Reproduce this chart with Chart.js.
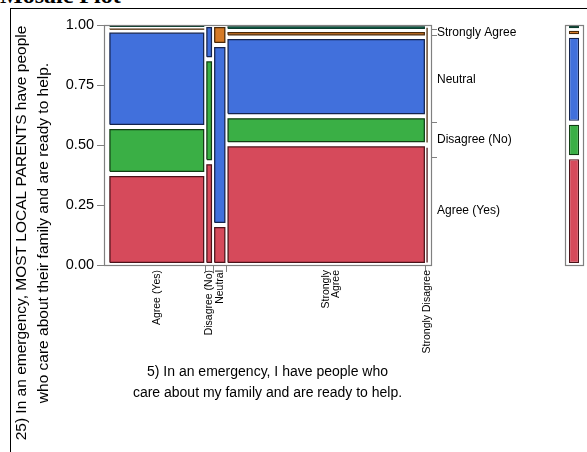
<!DOCTYPE html>
<html><head><meta charset="utf-8">
<script src="https://cdn.jsdelivr.net/npm/chart.js@4.4.1/dist/chart.umd.min.js"></script>
<style>
html,body{margin:0;padding:0;background:#fff;}
body{width:587px;height:452px;position:relative;overflow:hidden;}
#hdr{position:absolute;left:0;top:-18px;font:bold 24px "Liberation Serif","Times New Roman",serif;color:#000;white-space:nowrap;}
#frame{position:absolute;left:10px;top:8px;width:640px;height:520px;border-top:1px solid #000;border-left:1px solid #000;}
#main{position:absolute;left:0;top:0;}
#marg{position:absolute;left:540px;top:0;}
</style></head><body>
<div id="hdr">Mosaic Plot</div>
<div id="frame"></div>
<canvas id="main" width="587" height="452"></canvas>
<canvas id="marg" width="47" height="452"></canvas>
<script>
// ---- data (counts read from the mosaic) ----
const q5Categories = ['Agree (Yes)', 'Disagree (No)', 'Neutral', 'Strongly Agree', 'Strongly Disagree'];
const q5TickLabels = ['Agree (Yes)', 'Disagree (No)', 'Neutral', ['Strongly', 'Agree'], 'Strongly Disagree'];
const q25Categories = ['Agree (Yes)', 'Disagree (No)', 'Neutral', 'Strongly Agree', 'Strongly Disagree'];
const q25RightLabels = ['Agree (Yes)', 'Disagree (No)', 'Neutral', 'Strongly Agree', ''];
// counts of each Q25 answer, per Q5 column (same order as q5Categories)
const q25AgreeYes          = [33, 3, 2, 90, 1];
const q25DisagreeNo        = [17, 3, 0, 21, 0];
const q25Neutral           = [35, 1, 9, 59, 0];
const q25StronglyAgree     = [1, 0, 1, 5, 1];
const q25StronglyDisagree  = [1, 0, 0, 4, 0];
const yTickValues = [0, 0.25, 0.5, 0.75, 1];
const xTitle = ['5) In an emergency, I have people who', 'care about my family and are ready to help.'];
const yTitle = ['25) In an emergency, MOST LOCAL PARENTS have people', 'who care about their family and are ready to help.'];

// ---- styles ----
const fills   = ['#D64A5B', '#3AAF45', '#4170DC', '#D57A27', '#22AD86'];
const borders = ['#4B1219', '#123D14', '#14234D', '#4A2808', '#0B3D2E'];
const AXIS = '#808080';
const FONT = "'Liberation Sans', Arial, sans-serif";
Chart.defaults.font.family = FONT;
Chart.defaults.color = '#000';

const rows = [q25AgreeYes, q25DisagreeNo, q25Neutral, q25StronglyAgree, q25StronglyDisagree];
const colTotals = q5Categories.map((_, j) => rows.reduce((s, r) => s + r[j], 0));
const N = colTotals.reduce((a, b) => a + b, 0);
const colEdges = []; let acc = 0;
colTotals.forEach(t => { colEdges.push([acc / N, (acc + t) / N]); acc += t; });
const colCenters = colEdges.map(e => (e[0] + e[1]) / 2);
const colBounds = colEdges.slice(0, -1).map(e => e[1]);

const rowTotals = rows.map(r => r.reduce((a, b) => a + b, 0));
const margEdges = []; acc = 0;
rowTotals.forEach(t => { margEdges.push([acc / N, (acc + t) / N]); acc += t; });
const margCenters = margEdges.map(e => (e[0] + e[1]) / 2);
const margBounds = margEdges.slice(0, -1).map(e => e[1]);

// visual gap between tiles (pixels per unit of the fixed plot size)
const PX_X = 320, PX_Y = 240, BW = 1.25;
function shrink(lo, hi, ppu, gapPx, bw) {
  const h = (hi - lo) * ppu;
  const vi = Math.min(gapPx, h * 0.25);
  const ins = (vi + bw / 2) / ppu;
  if (2 * ins >= hi - lo) { const m = (lo + hi) / 2; return [m, m]; }
  return [lo + ins, hi - ins];
}

const datasets = [];
q5Categories.forEach((c, j) => {
  const tot = colTotals[j];
  let cum = 0;
  rows.forEach((r, i) => {
    const n = r[j];
    if (!n) { return; }
    const y0 = cum / tot, y1 = (cum + n) / tot; cum += n;
    const [a, b] = shrink(colEdges[j][0], colEdges[j][1], PX_X, 1, BW);
    const [c0, d] = shrink(y0, y1, PX_Y, 2, BW);
    datasets.push({
      type: 'line',
      data: [{x: a, y: c0}, {x: b, y: c0}, {x: b, y: d}, {x: a, y: d}, {x: a, y: c0}],
      fill: 'shape', backgroundColor: fills[i], borderColor: borders[i], borderWidth: BW,
      pointRadius: 0, pointHoverRadius: 0, tension: 0, borderJoinStyle: 'miter',
      xAxisID: 'x', yAxisID: 'y'
    });
  });
});

// gray frame around a chart's plotting area
const areaFrame = {
  id: 'areaFrame',
  afterDraw(chart) {
    const {ctx, chartArea: a} = chart;
    ctx.save();
    ctx.strokeStyle = AXIS; ctx.lineWidth = 1.2;
    ctx.strokeRect(Math.round(a.left) + 0.5, Math.round(a.top) + 0.5,
                   Math.round(a.right - a.left), Math.round(a.bottom - a.top));
    ctx.restore();
  }
};

const XMIN = -0.0134, XMAX = 1.0088;

new Chart(document.getElementById('main'), {
  type: 'line',
  data: {datasets},
  plugins: [areaFrame],
  options: {
    responsive: false, animation: false, events: [],
    layout: {padding: {left: 11, right: 50, top: 14, bottom: 0}},
    plugins: {
      legend: {display: false}, tooltip: {enabled: false},
      title: {display: true, position: 'left', text: yTitle, padding: 0,
              font: {size: 15.5, weight: 'normal', lineHeight: 1.42}, color: '#000'}
    },
    scales: {
      xTop: {type: 'linear', position: 'top', min: XMIN, max: XMAX, display: true,
          ticks: {display: false}, grid: {display: false, drawTicks: false}, border: {display: false},
          afterFit: s => { s.height = 11; }},
      x: {type: 'linear', position: 'bottom', min: XMIN, max: XMAX, weight: 0,
          afterBuildTicks: s => { s.ticks = colBounds.map(v => ({value: v})); },
          afterFit: s => { s.height = 4; },
          ticks: {display: false},
          grid: {drawOnChartArea: false, drawTicks: true, tickLength: 7, color: AXIS},
          border: {display: true, color: AXIS, width: 1}},
      xLab: {type: 'linear', position: 'bottom', min: XMIN, max: XMAX, weight: 1,
          afterBuildTicks: s => { s.ticks = colCenters.map(v => ({value: v})); },
          afterFit: s => { s.height = 183; },
          grid: {display: false, drawTicks: false}, border: {display: false},
          ticks: {autoSkip: false, minRotation: 90, maxRotation: 90, padding: 1,
                  font: {size: 10.5, lineHeight: 0.95}, color: '#000',
                  callback: (v, i) => q5TickLabels[i]},
          title: {display: true, text: xTitle, color: '#000',
                  font: {size: 14, lineHeight: 1.5}, padding: {top: 0, bottom: 48}}},
      y: {type: 'linear', position: 'left', min: 0, max: 1, weight: 0,
          afterBuildTicks: s => { s.ticks = yTickValues.map(v => ({value: v})); },
          afterFit: s => { s.width = 49; },
          ticks: {padding: 3, font: {size: 14.5}, color: '#000', callback: v => v.toFixed(2)},
          grid: {drawOnChartArea: false, drawTicks: true, tickLength: 7, color: AXIS},
          border: {display: true, color: AXIS, width: 1}},
      yR: {type: 'linear', position: 'right', min: 0, max: 1, weight: 0,
          afterBuildTicks: s => { s.ticks = margBounds.map(v => ({value: v})); },
          afterFit: s => { s.width = 6; },
          ticks: {display: false},
          grid: {drawOnChartArea: false, drawTicks: true, tickLength: 6, color: AXIS},
          border: {display: true, color: AXIS, width: 1}},
      yRLab: {type: 'linear', position: 'right', min: 0, max: 1, weight: 1,
          afterBuildTicks: s => { s.ticks = margCenters.map(v => ({value: v})); },
          afterFit: s => { s.width = 100; },
          grid: {display: false, drawTicks: false}, border: {display: false},
          ticks: {padding: 0, font: {size: 12}, color: '#000',
                  callback: (v, i) => q25RightLabels[i]}}
    }
  }
});

// marginal distribution bar
new Chart(document.getElementById('marg'), {
  type: 'bar',
  data: {
    labels: ['All'],
    datasets: q25Categories.map((c, i) => ({
      label: c,
      data: [shrink(margEdges[i][0], margEdges[i][1], PX_Y, 2, 0)],
      backgroundColor: fills[i], borderColor: borders[i], borderWidth: BW,
      borderSkipped: false, grouped: false, barPercentage: 0.56, categoryPercentage: 1
    }))
  },
  plugins: [areaFrame],
  options: {
    responsive: false, animation: false, events: [],
    layout: {padding: {left: 25, right: 4, top: 25, bottom: 187}},
    plugins: {legend: {display: false}, tooltip: {enabled: false}},
    scales: {
      x: {display: false},
      y: {display: false, min: 0, max: 1}
    }
  }
});
</script>
</body></html>
